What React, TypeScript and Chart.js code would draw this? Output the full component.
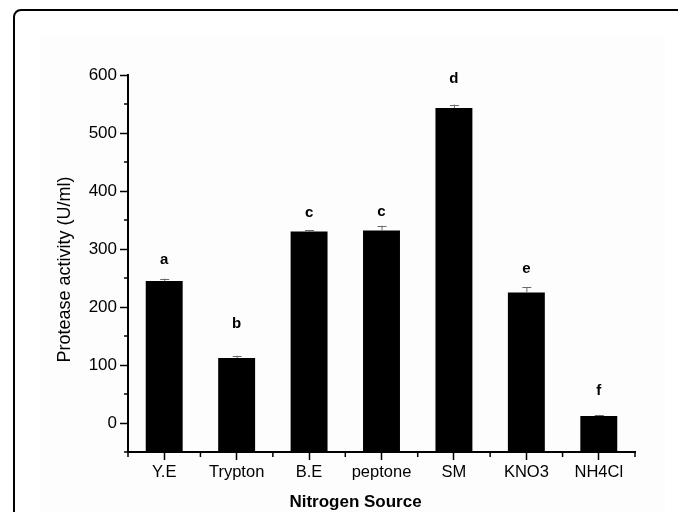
import React, { useEffect, useRef } from "react";
import { Chart, registerables } from "chart.js";

Chart.register(...registerables);

const categories = ["Y.E", "Trypton", "B.E", "peptone", "SM", "KNO3", "NH4Cl"];
const activity = [245, 112, 330, 332, 543, 225, 12];
const errors = [4, 4, 2, 8, 6, 9, 2];
const letters = ["a", "b", "c", "c", "d", "e", "f"];
const letterLevels = [274, 163, 355, 357, 586, 258, 48];
const yTicks = [0, 100, 200, 300, 400, 500, 600];
const yMinorTicks = [-50, 50, 150, 250, 350, 450, 550];
const yMin = -50;
const yMax = 600;
const xTitle = "Nitrogen Source";
const yTitle = "Protease activity (U/ml)";

const FONT = "'Liberation Sans', Arial, sans-serif";

const decorPlugin = {
  id: "decor",
  beforeDraw(chart: any) {
    const ctx = chart.ctx;
    const w = chart.width;
    const h = chart.height;
    ctx.save();
    ctx.fillStyle = "#ffffff";
    ctx.fillRect(0, 0, w, h);
    ctx.fillStyle = "#fdfdfd";
    ctx.fillRect(40, 37, 625, h);
    ctx.strokeStyle = "#000000";
    ctx.lineWidth = 2;
    ctx.beginPath();
    ctx.roundRect(14, 10, w + 20, h + 20, 7);
    ctx.stroke();
    ctx.restore();
  },
  afterDatasetsDraw(chart: any) {
    const ctx = chart.ctx;
    const x = chart.scales.x;
    const y = chart.scales.y;
    const area = chart.chartArea;
    ctx.save();
    // error bars
    ctx.strokeStyle = "#6a6a6a";
    ctx.lineWidth = 1;
    activity.forEach((v, i) => {
      const cx = x.getPixelForValue(i);
      const yTop = y.getPixelForValue(v + errors[i]);
      const yBar = y.getPixelForValue(v);
      ctx.beginPath();
      ctx.moveTo(cx + 0.5, yBar);
      ctx.lineTo(cx + 0.5, yTop);
      ctx.moveTo(cx - 4, Math.round(yTop) + 0.5);
      ctx.lineTo(cx + 5, Math.round(yTop) + 0.5);
      ctx.stroke();
    });
    // letters
    ctx.fillStyle = "#000000";
    ctx.font = `bold 15px ${FONT}`;
    ctx.textAlign = "center";
    ctx.textBaseline = "alphabetic";
    letters.forEach((t, i) => {
      ctx.fillText(t, x.getPixelForValue(i), y.getPixelForValue(letterLevels[i]));
    });
    // minor ticks
    ctx.strokeStyle = "#000000";
    ctx.lineWidth = 1.5;
    yMinorTicks.forEach((v) => {
      const py = y.getPixelForValue(v);
      ctx.beginPath();
      ctx.moveTo(area.left - 4, py);
      ctx.lineTo(area.left, py);
      ctx.stroke();
    });
    for (let i = 0; i <= categories.length; i++) {
      const px = x.getPixelForValue(i - 0.5);
      ctx.beginPath();
      ctx.moveTo(px, area.bottom);
      ctx.lineTo(px, area.bottom + 5);
      ctx.stroke();
    }
    ctx.restore();
  },
  afterDraw(chart: any) {
    const ctx = chart.ctx;
    const area = chart.chartArea;
    ctx.save();
    ctx.fillStyle = "#000000";
    ctx.textAlign = "center";
    ctx.textBaseline = "middle";
    ctx.font = `bold 17px ${FONT}`;
    ctx.fillText(xTitle, (area.left + area.right) / 2 - 26, 502);
    ctx.translate(65, (area.top + area.bottom) / 2 + 6);
    ctx.rotate(-Math.PI / 2);
    ctx.font = `18px ${FONT}`;
    ctx.fillText(yTitle, 0, 0);
    ctx.restore();
  },
};

export default function App() {
  const ref = useRef<HTMLCanvasElement>(null);
  useEffect(() => {
    document.body.style.margin = "0";
    const chart = new Chart(ref.current as HTMLCanvasElement, {
      type: "bar",
      data: {
        labels: categories,
        datasets: [
          {
            data: activity,
            base: yMin,
            backgroundColor: "#000000",
            borderWidth: 0,
            barPercentage: 0.51,
            categoryPercentage: 1,
          },
        ],
      },
      options: {
        responsive: false,
        animation: false,
        devicePixelRatio: 1,
        layout: { padding: { left: 0, top: 75, right: 43, bottom: 0 } },
        plugins: { legend: { display: false }, tooltip: { enabled: false } },
        scales: {
          x: {
            offset: true,
            grid: {
              offset: false,
              drawOnChartArea: false,
              drawTicks: true,
              tickLength: 8,
              tickColor: "#000000",
              tickWidth: 1.5,
            },
            border: { display: true, color: "#000000", width: 2 },
            ticks: {
              color: "#000000",
              font: { family: FONT, size: 16.5 },
              padding: 3,
              maxRotation: 0,
              autoSkip: false,
            },
            afterFit(scale: any) {
              scale.height = 60;
            },
          },
          y: {
            min: yMin,
            max: yMax,
            grid: {
              drawOnChartArea: false,
              drawTicks: true,
              tickLength: 8,
              tickColor: "#000000",
              tickWidth: 1.5,
            },
            border: { display: true, color: "#000000", width: 2 },
            ticks: {
              color: "#000000",
              font: { family: FONT, size: 17 },
              padding: 3,
            },
            afterBuildTicks(scale: any) {
              scale.ticks = yTicks.map((v) => ({ value: v }));
            },
            afterFit(scale: any) {
              scale.width = 128;
            },
          },
        },
      },
      plugins: [decorPlugin],
    });
    return () => chart.destroy();
  }, []);
  return (
    <div style={{ position: "absolute", left: 0, top: 0, width: 678, height: 512 }}>
      <canvas ref={ref} width={678} height={512} />
    </div>
  );
}
